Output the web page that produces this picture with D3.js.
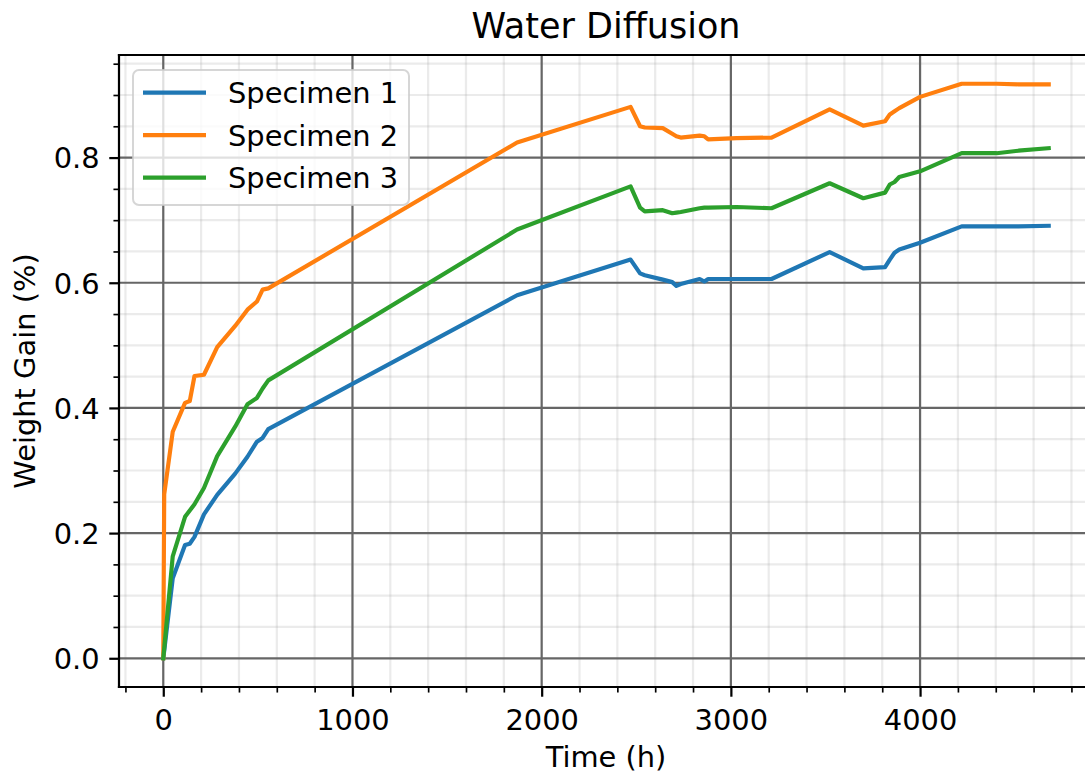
<!DOCTYPE html>
<html>
<head>
<meta charset="utf-8">
<script src="https://cdn.jsdelivr.net/npm/d3@7"></script>
<style>
    body { margin: 0; background: #fff; }
    svg { display: block; font-family: 'DejaVu Sans', sans-serif; }
</style>
</head>
<body>
<div id="chart"></div>
<script>
// measurement times (h)
var times = [0, 5, 50, 115, 140, 165, 215, 285, 380, 445, 495, 525, 555, 1870,
    2470, 2520, 2545, 2640, 2690, 2712, 2735, 2835, 2860, 2880, 3030, 3215,
    3522, 3700, 3815, 3840, 3865, 3890, 4000, 4220, 4405, 4520, 4680];

var specimen1 = [0, 0.012, 0.128, 0.181, 0.183, 0.194, 0.230, 0.261, 0.295, 0.322, 0.346, 0.352, 0.366, 0.580,
    0.637, 0.615, 0.612, 0.605, 0.601, 0.595, 0.598, 0.606, 0.602, 0.606, 0.606, 0.606,
    0.649, 0.623, 0.625, 0.637, 0.648, 0.653, 0.664, 0.690, 0.690, 0.690, 0.691];

var specimen2 = [0, 0.262, 0.362, 0.408, 0.411, 0.451, 0.453, 0.497, 0.531, 0.557, 0.570, 0.589, 0.591, 0.824,
    0.881, 0.850, 0.848, 0.847, 0.838, 0.834, 0.832, 0.835, 0.834, 0.829, 0.831, 0.832,
    0.877, 0.851, 0.858, 0.869, 0.874, 0.879, 0.897, 0.918, 0.918, 0.917, 0.917];

var specimen3 = [0, 0.016, 0.163, 0.226, 0.236, 0.246, 0.272, 0.323, 0.370, 0.406, 0.416, 0.431, 0.444, 0.685,
    0.754, 0.720, 0.714, 0.716, 0.711, 0.712, 0.713, 0.719, 0.720, 0.720, 0.721, 0.719,
    0.759, 0.735, 0.744, 0.757, 0.761, 0.769, 0.778, 0.807, 0.807, 0.811, 0.815];

var seriesNames = ['Specimen 1', 'Specimen 2', 'Specimen 3'];
var seriesValues = [specimen1, specimen2, specimen3];
var colors = ['#1f77b4', '#ff7f0e', '#2ca02c'];

var width = 1085,
    height = 781,
    plotLeft = 119,
    plotRight = 1093,   // right spine falls just outside the picture
    plotTop = 55,
    plotBottom = 687;

var pt = 200 / 72,
    fontSize = 10 * pt * 1.04,
    titleSize = 12 * pt * 1.05;

// matplotlib style 5% margins
var xMax = d3.max(times),
    yMax = d3.max(seriesValues, function (s) { return d3.max(s); });

var x = d3.scaleLinear()
    .domain([-0.05 * xMax, 1.05 * xMax])
    .range([plotLeft, plotRight]);

var y = d3.scaleLinear()
    .domain([-0.05 * yMax, 1.05 * yMax])
    .range([plotBottom, plotTop]);

var xMajor = d3.range(0, 4001, 1000),
    xMinor = d3.range(-200, 4801, 200).filter(function (v) { return v % 1000 !== 0; }),
    yMajor = [0, 0.2, 0.4, 0.6, 0.8],
    yMinor = d3.range(1, 20).map(function (i) { return i * 0.05; })
        .filter(function (v) { return Math.round(v * 100) % 20 !== 0 && v < y.domain()[1]; });

var svg = d3.select('#chart')
    .append('svg')
    .attr('width', width)
    .attr('height', height);

svg.append('defs')
    .append('clipPath')
    .attr('id', 'plot-clip')
    .append('rect')
    .attr('x', plotLeft)
    .attr('y', plotTop)
    .attr('width', plotRight - plotLeft)
    .attr('height', plotBottom - plotTop);

// grid, minor first
var grid = svg.append('g');

grid.selectAll('.gx-minor')
    .data(xMinor)
    .enter()
    .append('line')
    .attr('x1', function (d) { return x(d); })
    .attr('x2', function (d) { return x(d); })
    .attr('y1', plotTop)
    .attr('y2', plotBottom)
    .attr('stroke', '#999')
    .attr('stroke-opacity', 0.2)
    .attr('stroke-width', 0.8 * pt);

grid.selectAll('.gy-minor')
    .data(yMinor)
    .enter()
    .append('line')
    .attr('x1', plotLeft)
    .attr('x2', plotRight)
    .attr('y1', function (d) { return y(d); })
    .attr('y2', function (d) { return y(d); })
    .attr('stroke', '#999')
    .attr('stroke-opacity', 0.2)
    .attr('stroke-width', 0.8 * pt);

grid.selectAll('.gx-major')
    .data(xMajor)
    .enter()
    .append('line')
    .attr('x1', function (d) { return x(d); })
    .attr('x2', function (d) { return x(d); })
    .attr('y1', plotTop)
    .attr('y2', plotBottom)
    .attr('stroke', '#666')
    .attr('stroke-width', 0.8 * pt);

grid.selectAll('.gy-major')
    .data(yMajor)
    .enter()
    .append('line')
    .attr('x1', plotLeft)
    .attr('x2', plotRight)
    .attr('y1', function (d) { return y(d); })
    .attr('y2', function (d) { return y(d); })
    .attr('stroke', '#666')
    .attr('stroke-width', 0.8 * pt);

// series
var line = d3.line()
    .x(function (d) { return x(d[0]); })
    .y(function (d) { return y(d[1]); });

svg.append('g')
    .attr('clip-path', 'url(#plot-clip)')
    .selectAll('path')
    .data(seriesValues)
    .enter()
    .append('path')
    .attr('d', function (s) { return line(d3.zip(times, s)); })
    .attr('fill', 'none')
    .attr('stroke', function (d, i) { return colors[i]; })
    .attr('stroke-width', 1.5 * pt)
    .attr('stroke-linejoin', 'round')
    .attr('stroke-linecap', 'square');

// axes
var xAxis = d3.axisBottom(x)
    .tickValues(xMajor)
    .tickSize(3.5 * pt)
    .tickPadding(3.5 * pt)
    .tickFormat(d3.format('d'));

var xAxisMinor = d3.axisBottom(x)
    .tickValues(xMinor)
    .tickSize(2 * pt)
    .tickFormat('');

var yAxis = d3.axisLeft(y)
    .tickValues(yMajor)
    .tickSize(3.5 * pt)
    .tickPadding(3.5 * pt)
    .tickFormat(d3.format('.1f'));

var yAxisMinor = d3.axisLeft(y)
    .tickValues(yMinor)
    .tickSize(2 * pt)
    .tickFormat('');

var styleAxis = function (g, w) {
    g.select('.domain').remove();
    g.selectAll('.tick line')
        .attr('stroke', '#000')
        .attr('stroke-width', w);
    g.selectAll('.tick text')
        .attr('fill', '#000')
        .style('font-size', fontSize + 'px')
        .style('font-family', "'DejaVu Sans', sans-serif");
};

svg.append('g')
    .attr('transform', 'translate(0,' + plotBottom + ')')
    .call(xAxisMinor)
    .call(styleAxis, 0.6 * pt);

svg.append('g')
    .attr('transform', 'translate(0,' + plotBottom + ')')
    .call(xAxis)
    .call(styleAxis, 0.8 * pt)
    .selectAll('.tick text')
    .attr('dy', null)
    .attr('y', 730 - plotBottom);

svg.append('g')
    .attr('transform', 'translate(' + plotLeft + ',0)')
    .call(yAxisMinor)
    .call(styleAxis, 0.6 * pt);

svg.append('g')
    .attr('transform', 'translate(' + plotLeft + ',0)')
    .call(yAxis)
    .call(styleAxis, 0.8 * pt)
    .selectAll('.tick text')
    .attr('dy', '0.36em');

// spines (the right one is off the canvas)
var spines = [
    [plotLeft, plotTop, plotLeft, plotBottom],
    [plotLeft, plotBottom, plotRight, plotBottom],
    [plotLeft, plotTop, plotRight, plotTop],
    [plotRight, plotTop, plotRight, plotBottom]
];

svg.append('g')
    .selectAll('line')
    .data(spines)
    .enter()
    .append('line')
    .attr('x1', function (d) { return d[0]; })
    .attr('y1', function (d) { return d[1]; })
    .attr('x2', function (d) { return d[2]; })
    .attr('y2', function (d) { return d[3]; })
    .attr('stroke', '#000')
    .attr('stroke-width', 0.8 * pt)
    .attr('stroke-linecap', 'square');

// legend
var legend = svg.append('g');

legend.append('rect')
    .attr('x', 133)
    .attr('y', 70)
    .attr('width', 276)
    .attr('height', 135)
    .attr('rx', 6)
    .attr('fill', '#fff')
    .attr('fill-opacity', 0.8)
    .attr('stroke', '#ccc')
    .attr('stroke-opacity', 0.8)
    .attr('stroke-width', 2);

var rows = legend.selectAll('.row')
    .data(seriesNames)
    .enter()
    .append('g')
    .attr('transform', function (d, i) { return 'translate(0,' + (92.7 + i * 42.5) + ')'; });

rows.append('line')
    .attr('x1', 143)
    .attr('x2', 206)
    .attr('stroke', function (d, i) { return colors[i]; })
    .attr('stroke-width', 1.5 * pt);

rows.append('text')
    .attr('x', 228)
    .attr('dy', '0.36em')
    .style('font-size', fontSize + 'px')
    .text(function (d) { return d; });

// labels and title
svg.append('text')
    .attr('x', (plotLeft + plotRight) / 2)
    .attr('y', 767)
    .attr('text-anchor', 'middle')
    .style('font-size', fontSize + 'px')
    .text('Time (h)');

svg.append('text')
    .attr('transform', 'translate(35,' + (plotTop + plotBottom) / 2 + ') rotate(-90)')
    .attr('text-anchor', 'middle')
    .style('font-size', fontSize + 'px')
    .text('Weight Gain (%)');

svg.append('text')
    .attr('x', (plotLeft + plotRight) / 2)
    .attr('y', 38)
    .attr('text-anchor', 'middle')
    .style('font-size', titleSize + 'px')
    .text('Water Diffusion');
</script>
</body>
</html>
